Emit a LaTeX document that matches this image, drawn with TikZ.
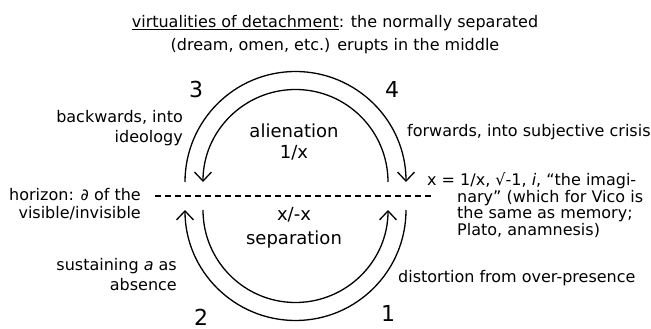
\documentclass[tikz,border=0pt]{standalone}
\usepackage{fontspec}
\setmainfont{DejaVu Sans}
\usetikzlibrary{arrows.meta}

\tikzset{
	ringline/.style={line width=1.3pt},
	ringarrow/.style={ringline, -{Straight Barb[length=9pt, width=17pt]}},
	sidetext/.style={inner sep=0pt, font=\fontsize{16}{20}\selectfont},
	midtext/.style={inner sep=0pt, align=center, font=\fontsize{18}{21}\selectfont},
	stagenum/.style={inner sep=0pt, font=\fontsize{22}{22}\selectfont},
}

\begin{document}
\begin{tikzpicture}[x=1pt, y=1pt]
	\useasboundingbox (0, 0) rectangle (651, 329);
	% Paths, nodes and wires:
	\coordinate (TL) at (185, 147);
	\coordinate (TR) at (388, 147);
	\coordinate (BL) at (203, 119);
	\coordinate (BR) at (406, 119);
	\coordinate (H1) at (155, 133);
	\coordinate (H2) at (432, 133);
	\draw[ringarrow] (TL) arc[start angle=180, end angle=0, radius=110.5];
	\draw[ringarrow] (TR) arc[start angle=0, end angle=180, radius=92.5];
	\draw[ringarrow] (BR) arc[start angle=0, end angle=-180, radius=110.5];
	\draw[ringarrow] (BL) arc[start angle=180, end angle=360, radius=92.5];
	\draw[ringline, dash pattern=on 6pt off 4pt] (H1) -- (H2);
	\node[sidetext, align=center, font=\fontsize{16}{23}\selectfont](title) at (335, 294.5){\underline{virtualities of detachment}: the normally separated\\(dream, omen, etc.) erupts in the middle};
	\node[sidetext, align=right, anchor=east](back) at (183, 201){backwards, into\\ideology};
	\node[sidetext, align=right, anchor=east, font=\fontsize{16}{18}\selectfont](horizon) at (141, 125){horizon: \char"2202{} of the\\visible/invisible};
	\node[sidetext, align=right, anchor=east](sustain) at (177, 54){sustaining \textit{a} as\\absence};
	\node[midtext](alien) at (294, 187){alienation\\1/x};
	\node[midtext, font=\fontsize{18}{24}\selectfont](separ) at (294, 101){x/-x\\separation};
	\node[sidetext, anchor=west](fwd) at (407, 197){forwards, into subjective crisis};
	\node[sidetext, align=left, anchor=west, font=\fontsize{16}{16.7}\selectfont](imag) at (427, 124){x = 1/x, \char"221A-1, \textit{i}, “the imagi-\\\hspace*{30pt}nary” (which for Vico is\\\hspace*{30pt}the same as memory;\\\hspace*{30pt}Plato, anamnesis)};
	\node[sidetext, anchor=west](distort) at (398, 51){distortion from over-presence};
	\node[stagenum](n3) at (196, 240){3};
	\node[stagenum](n4) at (392, 240){4};
	\node[stagenum](n2) at (201, 12){2};
	\node[stagenum](n1) at (388, 16){1};
\end{tikzpicture}
\end{document}
